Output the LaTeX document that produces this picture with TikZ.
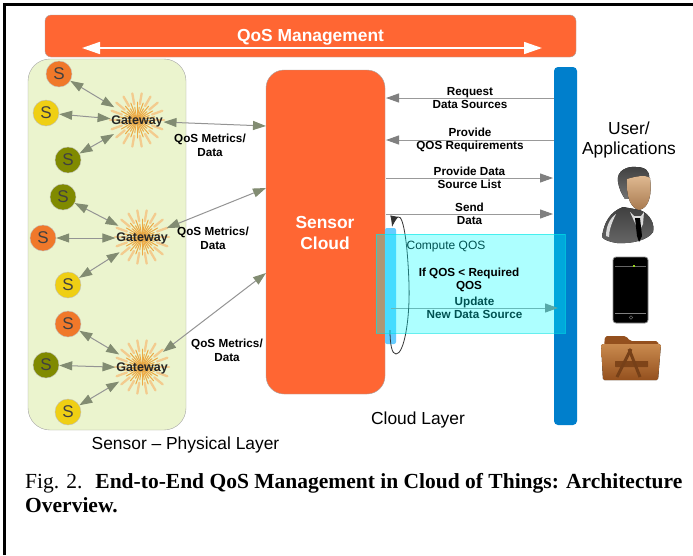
\documentclass[tikz,border=0pt]{standalone}
\usepackage{fontspec}
\setmainfont{Liberation Sans}
\newfontfamily\capfont{Liberation Serif}
\usetikzlibrary{positioning}
\usetikzlibrary{arrows.meta}
\definecolor{cloudred}{HTML}{FF6633}
\definecolor{sensorgreen}{HTML}{EBF4CE}
\definecolor{userblue}{HTML}{007FCC}
\definecolor{lightblue}{HTML}{66CCFF}
\definecolor{overcyan}{HTML}{00FFFF}
\definecolor{sorange}{HTML}{F0782A}
\definecolor{syellow}{HTML}{EFCF14}
\definecolor{solive}{HTML}{808A00}
\definecolor{rayouter}{HTML}{F3CB8E}
\definecolor{rayinner}{HTML}{EBAA45}
\definecolor{tipolive}{HTML}{828C72}
\definecolor{woodtop}{HTML}{C98A4E}
\definecolor{woodbot}{HTML}{94501E}
\definecolor{skinlight}{HTML}{E2BC94}
\definecolor{skindark}{HTML}{A87A50}
\tikzset{
linkwidth/.style={line width=1pt},
linktip/.tip={Triangle[length=13pt,width=9pt,fill=tipolive,color=tipolive]},
msgtip/.tip={Triangle[length=13pt,width=9pt,fill=black!50,color=black!50]},
bigbox/.style={draw=black!35,fill=cloudred,rounded corners=#1,inner sep=0pt,outer sep=0pt},
sensorcircle/.style={draw=black!25,fill=#1,circle,minimum size=26,inner sep=0pt,
	font=\fontsize{17}{17}\selectfont,text=black!75},
gateway/.style={circle,minimum size=46,inner sep=0pt,text=black!85,
	font=\fontsize{12.5}{14}\selectfont\bfseries},
link/.style={linktip-linktip,draw=black!42,linkwidth},
msgline/.style={-msgtip,draw=black!40,linkwidth},
msg/.style={align=center,text=black,font=\fontsize{11.7}{13.6}\selectfont\bfseries},
layername/.style={align=center,font=\fontsize{17.4}{20}\selectfont},
boxname/.style={align=center,text=white,font=\fontsize{17.4}{20.5}\selectfont\bfseries},
outerray/.style={color=rayouter,line width=2.3pt,line cap=round},
innerray/.style={color=rayinner,line width=1pt,line cap=round},
frameline/.style={draw=black,line width=2.8pt},
pics/burst/.style={code={
	\foreach \a in {0,20,...,340} {
		\draw[outerray] (\a:16) -- (\a:27);
		\draw[innerray] (\a+10:3) -- (\a+10:18);
		\draw[innerray] (\a:3) -- (\a:13);
	}
	\fill[rayinner!80!brown] (0,0) circle (3.5);
}},
}
\begin{document}
\begin{tikzpicture}[x=1pt,y=-1pt]
\useasboundingbox (0,0) rectangle (693,555);
\fill[white] (0,0) rectangle (693,555);
\draw[frameline] (4.7,555) -- (4.7,4.5) -- (693,4.5);

%
\node[bigbox=6pt,minimum width=531,minimum height=42] (qos) at (310.5,36) {};
\node[boxname] at (310.5,37) {QoS Management};
\coordinate (qosl) at (82,48);
\coordinate (qosr) at (542,48);
\draw[{Triangle[length=18pt,width=12pt]}-{Triangle[length=18pt,width=12pt]},draw=white,fill=white,line width=1.6pt] (qosl) to (qosr);

%
\node[bigbox=22pt,fill=sensorgreen,minimum width=158,minimum height=371] (physical) at (107,244.5) {};
\node[layername] (physicalname) at (185.5,445) {Sensor -- Physical Layer};

%
\pic at (137,120) {burst};
\pic at (142,237) {burst};
\pic at (142,367) {burst};
\node[gateway] (g1) at (137,121) {Gateway};
\node[gateway] (g2) at (142,238) {Gateway};
\node[gateway] (g3) at (142,368) {Gateway};

\node[sensorcircle=sorange] (s1) at (59,74) {S};
\node[sensorcircle=syellow] (s2) at (46,113) {S};
\node[sensorcircle=solive] (s3) at (68,160) {S};
\node[sensorcircle=solive] (s4) at (63,197) {S};
\node[sensorcircle=sorange] (s5) at (43,238) {S};
\node[sensorcircle=syellow] (s6) at (68,285) {S};
\node[sensorcircle=sorange] (s7) at (68,324) {S};
\node[sensorcircle=solive] (s8) at (46,365) {S};
\node[sensorcircle=syellow] (s9) at (68,412) {S};

\draw[link] (s1) to (g1);
\draw[link] (s2) to (g1);
\draw[link] (s3) to (g1);
\draw[link] (s4) to (g2);
\draw[link] (s5) to (g2);
\draw[link] (s6) to (g2);
\draw[link] (s7) to (g3);
\draw[link] (s8) to (g3);
\draw[link] (s9) to (g3);

%
\node[bigbox=18pt,minimum width=119,minimum height=324] (cloud) at (325.5,232) {};
\node[boxname] (cloudname) at (325,233) {Sensor\\Cloud};
\node[layername] (cloudlayer) at (418,420) {Cloud Layer};

\coordinate (c1) at (266,126);
\coordinate (c2) at (266,188);
\coordinate (c3) at (266,273);
\draw[link] (g1) to (c1);
\draw[link] (g2) to (c2);
\draw[link] (g3) to (c3);
\node[msg] (m1) at (210,145.5) {QoS Metrics/\\Data};
\node[msg] (m2) at (213,238.5) {QoS Metrics/\\Data};
\node[msg] (m3) at (227,350.5) {QoS Metrics/\\Data};

%
\node[bigbox=4pt,draw=none,fill=userblue,minimum width=23,minimum height=358] (user) at (565.5,246) {};
\node[bigbox=2pt,draw=none,fill=lightblue,minimum width=11,minimum height=116] (refine) at (390.5,286) {};

\coordinate (req1) at (554,98);
\coordinate (req2) at (386,98);
\coordinate (pro1) at (554,140);
\coordinate (pro2) at (386,140);
\coordinate (lst1) at (386,178);
\coordinate (lst2) at (553,178);
\coordinate (snd1) at (386,214);
\coordinate (snd2) at (553,214);
\coordinate (upd1) at (391,308);
\coordinate (upd2) at (558,308);
\draw[msgline] (req1) to node[msg] {Request\\Data Sources} (req2);
\draw[msgline] (pro1) to node[msg] {Provide\\QOS Requirements} (pro2);
\draw[msgline] (lst1) to node[msg] {Provide Data\\Source List} (lst2);
\draw[msgline] (snd1) to node[msg] {Send\\Data} (snd2);
\draw[msgline] (upd1) to node[msg] {Update\\New Data Source} (upd2);
\node[msg,font=\fontsize{12}{13.6}\selectfont] (compute) at (446,246.5) {Compute QOS};

%
\coordinate (loop1) at (390,330);
\coordinate (loop2) at (392,227);
\draw[-{Latex[length=11pt,width=8pt]},black!80,line width=.8pt] (loop1) .. controls (390,345) and (392,354) .. (396,354)
	.. controls (404,354) and (410,320) .. (409,285)
	.. controls (408,250) and (404,214) .. (398,217)
	.. controls (395,218) and (393,222) .. (loop2);

%
\node[draw=overcyan!80!teal,fill=overcyan,fill opacity=.32,draw opacity=.6,minimum width=189,minimum height=99,inner sep=0pt,line width=1pt] (overlay) at (470.5,283.5) {};
\node[msg] (ifqos) at (469,280) {If QOS < Required\\QOS};

%
\node[layername] (username) at (629,140) {User/\\Applications};

% person
\fill[top color=black!75,bottom color=black!60] (602,237) .. controls (604,222) and (610,212) .. (623,207)
	-- (640,210) .. controls (650,214) and (655,224) .. (653,232)
	.. controls (648,240) and (632,244) .. (617,243) .. controls (610,242) and (604,240) .. (602,237) -- cycle;
\fill[black!15] (606,236) .. controls (606,226) and (610,218) .. (616,214) .. controls (612,222) and (609,230) .. (609,237) -- cycle;
\fill[white!85!black] (630,212) -- (634,216) -- (641,216) -- (644,212) -- (643,224) -- (639,232) -- cycle;
\fill[black] (635,218) -- (640,218) -- (642,236) -- (639,242) -- (637,236) -- cycle;
\fill[top color=black!75,bottom color=black!55] (618,182) .. controls (616,170) and (628,166) .. (636,167)
	.. controls (645,167) and (650,171) .. (649,178) -- (645,198) -- (625,199) .. controls (621,193) and (619,188) .. (618,182) -- cycle;
\fill[top color=skinlight,bottom color=skindark] (627,179) .. controls (634,177) and (645,174) .. (650,178)
	.. controls (652,192) and (650,208) .. (639,210) .. controls (631,208) and (626,198) .. (627,179) -- cycle;

% phone
\draw[black,fill=black,draw=black!45,rounded corners=3pt,line width=.8pt] (613,257) rectangle (648,323);
\draw[black!60,line width=1pt] (615,266) -- (646,266);
\fill[yellow!60!green] (633,265.3) rectangle (635,266.7);
\draw[black!50,line width=.4pt] (615,313) -- (646,313);
\draw[black!60,line width=.5pt] (631,317.5) circle (1.8);

% folder
\fill[woodbot,rounded corners=2pt] (604,347) -- (605,336) -- (626,336) -- (630,341) -- (658,341) -- (659,347) -- cycle;
\fill[top color=woodtop,bottom color=woodbot,rounded corners=1.5pt] (601,344) -- (661,344) -- (658,380) -- (603,380) -- cycle;
\fill[woodbot!85!black,rounded corners=.5pt] (615,361) -- (648,361) -- (648,367) -- (615,367) -- cycle;
\draw[woodbot!80!black,line width=3pt] (631,349) -- (617,377);
\draw[woodbot!80!black,line width=3pt] (629,349) -- (640,377);

%
\node[anchor=base west,inner sep=0pt,font=\capfont\fontsize{21.5}{24}\selectfont] (figcap) at (25,488) {Fig. 2.\hspace{.6em}\textbf{End-to-End QoS Management in Cloud of Things: Architecture}};
\node[anchor=base west,inner sep=0pt,font=\capfont\fontsize{21.5}{24}\selectfont\bfseries] (figcap2) at (25,512) {Overview.};
\end{tikzpicture}
\end{document}
